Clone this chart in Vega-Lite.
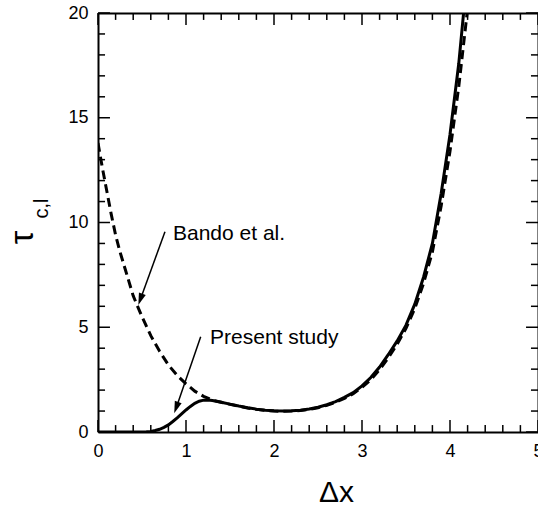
{
  "$schema": "https://vega.github.io/schema/vega-lite/v6.json",
  "width": 440,
  "height": 419,
  "autosize": {"type": "none"},
  "padding": {"left": 98, "top": 13, "right": 0, "bottom": 74},
  "background": "white",
  "config": {
    "view": {"stroke": null},
    "axis": {
      "grid": false,
      "domainColor": "black",
      "domainWidth": 2,
      "labelFont": "Liberation Sans",
      "labelFontSize": 18,
      "labelColor": "black",
      "labelFlush": false,
      "labelOverlap": false,
      "titleFont": "Liberation Sans",
      "titleFontWeight": "normal",
      "titleColor": "black"
    }
  },
  "datasets": {
    "solid": [
      {"x": 0, "y": 0}, {"x": 0.5, "y": 0}, {"x": 0.55, "y": 0.01}, {"x": 0.6, "y": 0.03},
      {"x": 0.65, "y": 0.07}, {"x": 0.7, "y": 0.13}, {"x": 0.75, "y": 0.22}, {"x": 0.8, "y": 0.34},
      {"x": 0.85, "y": 0.5}, {"x": 0.9, "y": 0.67}, {"x": 0.95, "y": 0.86}, {"x": 1.0, "y": 1.05},
      {"x": 1.05, "y": 1.22}, {"x": 1.1, "y": 1.37}, {"x": 1.15, "y": 1.47}, {"x": 1.2, "y": 1.52},
      {"x": 1.25, "y": 1.53}, {"x": 1.3, "y": 1.5}, {"x": 1.4, "y": 1.42}, {"x": 1.5, "y": 1.33},
      {"x": 1.6, "y": 1.24}, {"x": 1.7, "y": 1.16}, {"x": 1.8, "y": 1.09}, {"x": 1.9, "y": 1.04},
      {"x": 2.0, "y": 1.01}, {"x": 2.1, "y": 1.0}, {"x": 2.2, "y": 1.01}, {"x": 2.3, "y": 1.04},
      {"x": 2.4, "y": 1.1}, {"x": 2.5, "y": 1.18}, {"x": 2.6, "y": 1.3}, {"x": 2.7, "y": 1.45},
      {"x": 2.8, "y": 1.65}, {"x": 2.9, "y": 1.88}, {"x": 3.0, "y": 2.2}, {"x": 3.1, "y": 2.6},
      {"x": 3.2, "y": 3.1}, {"x": 3.3, "y": 3.7}, {"x": 3.4, "y": 4.35}, {"x": 3.5, "y": 5.1},
      {"x": 3.6, "y": 6.1}, {"x": 3.7, "y": 7.4}, {"x": 3.8, "y": 9.0}, {"x": 3.9, "y": 11.4},
      {"x": 4.0, "y": 14.2}, {"x": 4.1, "y": 17.6}, {"x": 4.15, "y": 19.8}, {"x": 4.17, "y": 20.6}
    ],
    "dashed": [
      {"x": 0, "y": 13.8}, {"x": 0.05, "y": 12.6}, {"x": 0.1, "y": 11.5}, {"x": 0.15, "y": 10.4},
      {"x": 0.2, "y": 9.4}, {"x": 0.25, "y": 8.6}, {"x": 0.3, "y": 7.9}, {"x": 0.35, "y": 7.2},
      {"x": 0.4, "y": 6.5}, {"x": 0.45, "y": 6.0}, {"x": 0.5, "y": 5.5}, {"x": 0.6, "y": 4.6},
      {"x": 0.7, "y": 3.85}, {"x": 0.8, "y": 3.2}, {"x": 0.9, "y": 2.7}, {"x": 1.0, "y": 2.3},
      {"x": 1.1, "y": 1.95}, {"x": 1.2, "y": 1.7}, {"x": 1.3, "y": 1.52}, {"x": 1.4, "y": 1.42},
      {"x": 1.5, "y": 1.32}, {"x": 1.6, "y": 1.23}, {"x": 1.7, "y": 1.15}, {"x": 1.8, "y": 1.08},
      {"x": 1.9, "y": 1.03}, {"x": 2.0, "y": 1.0}, {"x": 2.1, "y": 0.99}, {"x": 2.2, "y": 1.0},
      {"x": 2.3, "y": 1.03}, {"x": 2.4, "y": 1.08}, {"x": 2.5, "y": 1.16}, {"x": 2.6, "y": 1.27},
      {"x": 2.7, "y": 1.42}, {"x": 2.8, "y": 1.6}, {"x": 2.9, "y": 1.83}, {"x": 3.0, "y": 2.13},
      {"x": 3.1, "y": 2.5}, {"x": 3.2, "y": 2.98}, {"x": 3.3, "y": 3.55}, {"x": 3.4, "y": 4.2},
      {"x": 3.5, "y": 4.95}, {"x": 3.6, "y": 5.9}, {"x": 3.7, "y": 7.1}, {"x": 3.8, "y": 8.6},
      {"x": 3.9, "y": 10.8}, {"x": 4.0, "y": 13.4}, {"x": 4.1, "y": 16.5}, {"x": 4.2, "y": 20.2},
      {"x": 4.22, "y": 21}
    ],
    "arrows": [
      {"x": 0.761, "y": 9.56, "x2": 0.481, "y2": 6.33},
      {"x": 1.167, "y": 4.55, "x2": 0.889, "y2": 1.163}
    ],
    "labels": [
      {"x": 0.852, "y": 9.16, "text": "Bando et al."},
      {"x": 1.273, "y": 4.2, "text": "Present study"}
    ],
    "xmajor": [{"v": 0}, {"v": 1}, {"v": 2}, {"v": 3}, {"v": 4}, {"v": 5}],
    "xminor": [{"v": 0.2}, {"v": 0.4}, {"v": 0.6}, {"v": 0.8}, {"v": 1.2}, {"v": 1.4}, {"v": 1.6}, {"v": 1.8},
      {"v": 2.2}, {"v": 2.4}, {"v": 2.6}, {"v": 2.8}, {"v": 3.2}, {"v": 3.4}, {"v": 3.6}, {"v": 3.8},
      {"v": 4.2}, {"v": 4.4}, {"v": 4.6}, {"v": 4.8}],
    "ymajor": [{"v": 0}, {"v": 5}, {"v": 10}, {"v": 15}, {"v": 20}],
    "yminor": [{"v": 1}, {"v": 2}, {"v": 3}, {"v": 4}, {"v": 6}, {"v": 7}, {"v": 8}, {"v": 9},
      {"v": 11}, {"v": 12}, {"v": 13}, {"v": 14}, {"v": 16}, {"v": 17}, {"v": 18}, {"v": 19}]
  },
  "resolve": {"axis": {"x": "independent", "y": "independent"}},
  "layer": [
    {
      "data": {"name": "solid"},
      "mark": {"type": "line", "color": "black", "strokeWidth": 3, "clip": true},
      "encoding": {
        "x": {"field": "x", "type": "quantitative",
          "scale": {"domain": [0, 5], "nice": false, "zero": false},
          "axis": {"orient": "bottom", "tickCount": 5, "ticks": false, "labelPadding": 10,
            "title": "Δx", "titleFontSize": 30, "titleX": 238, "titleY": 69, "titleAlign": "center", "titleBaseline": "alphabetic"}},
        "y": {"field": "y", "type": "quantitative",
          "scale": {"domain": [0, 20], "nice": false, "zero": false},
          "axis": {"orient": "left", "tickCount": 4, "ticks": false, "labelPadding": 10,
            "title": "τ", "titleFontSize": 34, "titleAngle": -90, "titleX": -66, "titleY": 224, "titleAlign": "center", "titleBaseline": "alphabetic"}}
      }
    },
    {
      "data": {"name": "dashed"},
      "mark": {"type": "line", "color": "black", "strokeWidth": 3, "strokeDash": [9, 5], "clip": true},
      "encoding": {
        "x": {"field": "x", "type": "quantitative",
          "scale": {"domain": [0, 5], "nice": false, "zero": false},
          "axis": {"orient": "top", "ticks": false, "labels": false, "title": null}},
        "y": {"field": "y", "type": "quantitative",
          "scale": {"domain": [0, 20], "nice": false, "zero": false},
          "axis": {"orient": "right", "ticks": false, "labels": false, "title": null}}
      }
    },
    {
      "data": {"name": "arrows"},
      "mark": {"type": "rule", "color": "black", "strokeWidth": 1.5},
      "encoding": {
        "x": {"field": "x", "type": "quantitative",
          "scale": {"domain": [0, 5], "nice": false, "zero": false}, "axis": null},
        "y": {"field": "y", "type": "quantitative",
          "scale": {"domain": [0, 20], "nice": false, "zero": false},
          "axis": {"orient": "left", "ticks": false, "labels": false, "domain": false,
            "title": "c,l", "titleFontSize": 20, "titleAngle": -90, "titleX": -51, "titleY": 195, "titleAlign": "center", "titleBaseline": "alphabetic"}},
        "x2": {"field": "x2"},
        "y2": {"field": "y2"}
      }
    },
    {
      "data": {"name": "arrows"},
      "mark": {"type": "point", "shape": "M0,-1L0.6,1L-0.6,1Z", "filled": true, "color": "black", "opacity": 1, "size": 144, "angle": 199.5},
      "encoding": {
        "x": {"field": "x2", "type": "quantitative", "scale": {"domain": [0, 5], "nice": false, "zero": false}, "axis": null},
        "y": {"field": "y2", "type": "quantitative", "scale": {"domain": [0, 20], "nice": false, "zero": false}, "axis": null}
      }
    },
    {
      "data": {"name": "labels"},
      "mark": {"type": "text", "align": "left", "baseline": "alphabetic", "font": "Liberation Sans", "fontSize": 21, "color": "black"},
      "encoding": {
        "x": {"field": "x", "type": "quantitative", "scale": {"domain": [0, 5], "nice": false, "zero": false}, "axis": null},
        "y": {"field": "y", "type": "quantitative", "scale": {"domain": [0, 20], "nice": false, "zero": false}, "axis": null},
        "text": {"field": "text"}
      }
    },
    {
      "data": {"name": "xmajor"},
      "mark": {"type": "rule", "color": "black", "strokeWidth": 1.5},
      "encoding": {
        "x": {"field": "v", "type": "quantitative", "scale": {"domain": [0, 5], "nice": false, "zero": false}, "axis": null},
        "y": {"datum": 0, "type": "quantitative", "scale": {"domain": [0, 20], "nice": false, "zero": false}, "axis": null},
        "y2": {"datum": 0.57}
      }
    },
    {
      "data": {"name": "xmajor"},
      "mark": {"type": "rule", "color": "black", "strokeWidth": 1.5},
      "encoding": {
        "x": {"field": "v", "type": "quantitative", "scale": {"domain": [0, 5], "nice": false, "zero": false}, "axis": null},
        "y": {"datum": 20, "type": "quantitative", "scale": {"domain": [0, 20], "nice": false, "zero": false}, "axis": null},
        "y2": {"datum": 19.43}
      }
    },
    {
      "data": {"name": "xminor"},
      "mark": {"type": "rule", "color": "black", "strokeWidth": 1.5},
      "encoding": {
        "x": {"field": "v", "type": "quantitative", "scale": {"domain": [0, 5], "nice": false, "zero": false}, "axis": null},
        "y": {"datum": 0, "type": "quantitative", "scale": {"domain": [0, 20], "nice": false, "zero": false}, "axis": null},
        "y2": {"datum": 0.33}
      }
    },
    {
      "data": {"name": "xminor"},
      "mark": {"type": "rule", "color": "black", "strokeWidth": 1.5},
      "encoding": {
        "x": {"field": "v", "type": "quantitative", "scale": {"domain": [0, 5], "nice": false, "zero": false}, "axis": null},
        "y": {"datum": 20, "type": "quantitative", "scale": {"domain": [0, 20], "nice": false, "zero": false}, "axis": null},
        "y2": {"datum": 19.67}
      }
    },
    {
      "data": {"name": "ymajor"},
      "mark": {"type": "rule", "color": "black", "strokeWidth": 1.5},
      "encoding": {
        "y": {"field": "v", "type": "quantitative", "scale": {"domain": [0, 20], "nice": false, "zero": false}, "axis": null},
        "x": {"datum": 0, "type": "quantitative", "scale": {"domain": [0, 5], "nice": false, "zero": false}, "axis": null},
        "x2": {"datum": 0.136}
      }
    },
    {
      "data": {"name": "ymajor"},
      "mark": {"type": "rule", "color": "black", "strokeWidth": 1.5},
      "encoding": {
        "y": {"field": "v", "type": "quantitative", "scale": {"domain": [0, 20], "nice": false, "zero": false}, "axis": null},
        "x": {"datum": 5, "type": "quantitative", "scale": {"domain": [0, 5], "nice": false, "zero": false}, "axis": null},
        "x2": {"datum": 4.864}
      }
    },
    {
      "data": {"name": "yminor"},
      "mark": {"type": "rule", "color": "black", "strokeWidth": 1.5},
      "encoding": {
        "y": {"field": "v", "type": "quantitative", "scale": {"domain": [0, 20], "nice": false, "zero": false}, "axis": null},
        "x": {"datum": 0, "type": "quantitative", "scale": {"domain": [0, 5], "nice": false, "zero": false}, "axis": null},
        "x2": {"datum": 0.08}
      }
    },
    {
      "data": {"name": "yminor"},
      "mark": {"type": "rule", "color": "black", "strokeWidth": 1.5},
      "encoding": {
        "y": {"field": "v", "type": "quantitative", "scale": {"domain": [0, 20], "nice": false, "zero": false}, "axis": null},
        "x": {"datum": 5, "type": "quantitative", "scale": {"domain": [0, 5], "nice": false, "zero": false}, "axis": null},
        "x2": {"datum": 4.92}
      }
    }
  ]
}
